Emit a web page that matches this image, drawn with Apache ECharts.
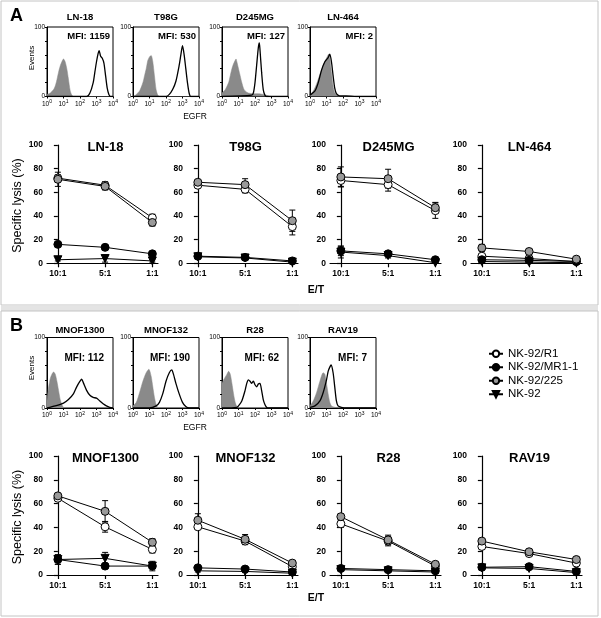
<!DOCTYPE html>
<html><head><meta charset="utf-8">
<script src="https://cdn.jsdelivr.net/npm/echarts@6/dist/echarts.min.js"></script>
<style>html,body{margin:0;padding:0;background:#fff}#c{width:601px;height:618px}</style>
</head><body><div id="c"></div>
<script>
// ---------- DATA ----------
const lineCats = ['10:1', '5:1', '1:1'];
const seriesNames = ['NK-92/R1', 'NK-92/MR1-1', 'NK-92/225', 'NK-92'];
const cellLines = ['LN-18', 'T98G', 'D245MG', 'LN-464', 'MNOF1300', 'MNOF132', 'R28', 'RAV19'];
const mfiValues = [1159, 530, 127, 2, 112, 190, 62, 7];
const histTickExp = ['0', '1', '2', '3', '4'];

// specific lysis (%) per cell line, at 10:1, 5:1, 1:1
const r1Lysis   = [[72,66,38.5],[66,62.5,31],[70,66.5,44.5],[6,4,1.5],[64.5,40.5,21.5],[40.5,28.5,7],[43,28.5,7.5],[24,18,10]];
const mr1Lysis  = [[16,13.5,8],[6,5,2],[10.5,8,3],[3,2.5,1.5],[13,7.5,7.5],[6,5,2.5],[5.5,4.5,3.5],[6.5,7,3]];
const c225Lysis = [[71,65,34.5],[68.5,66.5,36],[73,71.5,47],[13,10,3.5],[66.5,53.5,27.5],[46,30,10],[49,29.5,9],[28.5,19.5,13]];
const nk92Lysis = [[3,4,2],[5.5,4.5,1],[9.5,6.5,0.5],[1.5,1,0.5],[13,14,7.5],[3.5,3,1.5],[4.5,3.5,2.5],[6,5.5,2]];
// error (SD)
const r1Err   = [[3,3,3],[2,3,7],[5,5.5,6.5],[1,1,1],[2,4.5,3],[2,3,1],[3,4,1],[2,2,1.5]];
const mr1Err  = [[1,1,1],[1,1,1],[4,2,1],[1,1,1],[4,2,4],[2,1,1],[1,1,1],[2,1,1]];
const c225Err = [[6,3,3],[2,5,9],[8.5,8,4.5],[3,2,1],[2,9,3],[5.5,4,1.5],[2.5,4,1],[1.5,1.5,1.5]];
const nk92Err = [[1,3,1],[1,1,1],[5,2,1],[1,1,1],[4,5,2],[1,1,1],[1,1,1],[1,1,1]];

// flow histograms: [log10 EGFR, events]
const isoHist = [
  [[0,3],[0.2,5],[0.4,10],[0.5,15],[0.6,24],[0.7,35],[0.8,44],[0.9,50],[1.0,54],[1.1,50],[1.2,40],[1.3,25],[1.4,9],[1.5,2],[1.6,0],[4,0]],
  [[0,0],[0.1,1],[0.2,3],[0.4,8],[0.6,20],[0.7,30],[0.8,40],[0.9,52],[1.0,57],[1.1,59],[1.2,50],[1.3,30],[1.4,10],[1.5,2],[1.6,0],[4,0]],
  [[0,5],[0.2,10],[0.4,20],[0.5,30],[0.6,40],[0.7,47],[0.8,52],[0.85,54],[0.9,50],[1.0,40],[1.1,30],[1.2,20],[1.3,12],[1.4,8],[1.6,5],[1.9,4],[2.2,4],[2.5,3],[2.8,1],[3,0],[4,0]],
  [[0,2],[0.2,8],[0.4,18],[0.6,32],[0.8,45],[1.0,55],[1.14,61],[1.2,55],[1.3,35],[1.4,15],[1.5,5],[1.7,1],[1.9,0],[4,0]],
  [[0,10],[0.1,30],[0.2,42],[0.3,48],[0.4,51],[0.5,48],[0.6,38],[0.7,25],[0.8,12],[0.9,5],[1.0,1],[1.2,0],[4,0]],
  [[0,3],[0.2,8],[0.4,22],[0.6,38],[0.8,50],[0.96,55],[1.1,45],[1.2,30],[1.3,15],[1.4,5],[1.5,1],[1.7,0],[4,0]],
  [[0,35],[0.1,40],[0.2,44],[0.3,48],[0.4,52],[0.5,48],[0.6,35],[0.7,20],[0.8,8],[0.9,2],[1.0,0],[4,0]],
  [[0,3],[0.2,10],[0.4,22],[0.6,38],[0.8,50],[0.9,48],[1.0,35],[1.1,20],[1.2,8],[1.3,3],[1.5,1],[1.7,0],[4,0]]
];
const egfrHist = [
  [[0,0],[2.4,0],[2.6,5],[2.8,20],[2.9,35],[3.0,50],[3.1,62],[3.16,66],[3.25,58],[3.35,55],[3.45,48],[3.55,30],[3.65,12],[3.75,3],[3.85,0],[4,0]],
  [[0,0],[2.0,0],[2.2,3],[2.4,10],[2.6,22],[2.8,45],[2.9,60],[3.0,73],[3.1,60],[3.2,40],[3.3,20],[3.4,5],[3.5,0],[4,0]],
  [[0,0],[1.8,2],[1.9,5],[2.0,20],[2.1,45],[2.2,70],[2.26,77],[2.3,68],[2.4,35],[2.5,10],[2.6,2],[2.7,0],[4,0]],
  [[0,2],[0.3,8],[0.5,20],[0.7,38],[0.9,50],[1.1,56],[1.2,61],[1.3,50],[1.4,30],[1.5,12],[1.6,4],[1.8,1],[2.2,1],[2.8,0],[4,0]],
  [[0,0],[0.5,3],[1.0,7],[1.3,12],[1.6,20],[1.8,30],[2.0,38],[2.1,41],[2.2,36],[2.4,25],[2.6,18],[2.8,15],[3.0,14],[3.2,10],[3.4,6],[3.6,3],[3.8,1],[4,0]],
  [[0,0],[1.0,0],[1.4,3],[1.6,8],[1.8,20],[2.0,38],[2.2,50],[2.35,54],[2.45,48],[2.6,35],[2.8,20],[3.0,8],[3.2,2],[3.4,0],[4,0]],
  [[0,0],[0.9,1],[1.0,3],[1.2,10],[1.4,25],[1.5,35],[1.6,40],[1.7,38],[1.8,35],[1.9,38],[2.0,33],[2.1,30],[2.2,34],[2.3,35],[2.4,25],[2.5,12],[2.6,5],[2.7,1],[2.8,0],[4,0]],
  [[0,1],[0.3,3],[0.6,10],[0.8,22],[1.0,40],[1.1,52],[1.2,58],[1.28,61],[1.4,50],[1.5,30],[1.6,10],[1.7,3],[1.9,1],[2.2,0],[4,0]]
];

// ---------- LAYOUT ----------
const FONT = '"Liberation Sans", Arial, Helvetica, sans-serif';
const histLefts = [47, 133, 222, 310], histW = 66;
const histTop = [27, 337.5], histH = [69.5, 70.5];
const lineLefts = [47, 187, 330, 471], lineW = 111;
const lineTop = [145, 456], lineH = [118.3, 119];
const lysis = [r1Lysis, mr1Lysis, c225Lysis, nk92Lysis];
const errs = [r1Err, mr1Err, c225Err, nk92Err];
const styles = [
  {symbol: 'circle', color: '#ffffff', rot: 0, z: 4},
  {symbol: 'circle', color: '#000000', rot: 0, z: 5},
  {symbol: 'circle', color: '#999999', rot: 0, z: 6},
  {symbol: 'triangle', color: '#000000', rot: 180, z: 3}
];

const grid = [], xAxis = [], yAxis = [], series = [], graphic = [];
for (let i = 0; i < 8; i++) {
  const p = i < 4 ? 0 : 1, c = i % 4;
  grid.push({left: histLefts[c], top: histTop[p], width: histW, height: histH[p],
    show: true, borderColor: '#000', borderWidth: 1, backgroundColor: 'transparent'});
  xAxis.push({gridIndex: i, type: 'value', min: 0, max: 4, interval: 1,
    axisLine: {show: true, lineStyle: {color: '#000', width: 1}},
    axisTick: {show: true, length: 2, lineStyle: {color: '#000'}},
    axisLabel: {color: '#000', margin: 3, fontFamily: FONT,
      formatter: v => '{a|10}{b|' + histTickExp[v] + '}',
      rich: {a: {fontSize: 6.5, fontFamily: FONT, color: '#000', verticalAlign: 'bottom'},
             b: {fontSize: 5, fontFamily: FONT, color: '#000', verticalAlign: 'bottom', padding: [0, 0, 3, 0]}}},
    splitLine: {show: false}});
  yAxis.push({gridIndex: i, type: 'value', min: 0, max: 100, interval: 20,
    axisLine: {show: true, lineStyle: {color: '#000', width: 1}},
    axisTick: {show: true, length: 2, lineStyle: {color: '#000'}},
    axisLabel: {fontSize: 6.5, color: '#000', margin: 2, fontFamily: FONT,
      formatter: v => (v === 0 || v === 100) ? String(v) : ''},
    splitLine: {show: false}});
  series.push({type: 'line', xAxisIndex: i, yAxisIndex: i, data: isoHist[i], smooth: 0.25,
    symbol: 'none', silent: true, lineStyle: {color: '#8a8a8a', width: 0.5},
    areaStyle: {color: '#8a8a8a', opacity: 1}, z: 2, animation: false});
  series.push({type: 'line', xAxisIndex: i, yAxisIndex: i, data: egfrHist[i], smooth: 0.25,
    symbol: 'none', silent: true, lineStyle: {color: '#000', width: 1.3}, z: 3, animation: false});
  graphic.push({type: 'text', style: {text: cellLines[i], x: histLefts[c] + histW / 2, y: p ? 330 : 17,
    font: 'bold 9.5px ' + FONT, fill: '#000', textAlign: 'center', textVerticalAlign: 'middle'}});
  graphic.push({type: 'text', style: {text: 'MFI: ' + mfiValues[i],
    x: histLefts[c] + histW - (p ? 9 : 3), y: p ? 358 : 36,
    font: (p ? 'bold 10px ' : 'bold 9.5px ') + FONT, fill: '#000', textAlign: 'right', textVerticalAlign: 'middle'}});
}
const errRender = (params, api) => {
  const x = api.value(0), y = api.value(1), e = api.value(2);
  const t = api.coord([x, Math.min(100, y + e)]);
  const b = api.coord([x, Math.max(0, y - e)]);
  const st = {stroke: '#000', lineWidth: 1};
  return {type: 'group', children: [
    {type: 'line', shape: {x1: t[0], y1: t[1], x2: b[0], y2: b[1]}, style: st},
    {type: 'line', shape: {x1: t[0] - 3, y1: t[1], x2: t[0] + 3, y2: t[1]}, style: st},
    {type: 'line', shape: {x1: b[0] - 3, y1: b[1], x2: b[0] + 3, y2: b[1]}, style: st}
  ]};
};
for (let i = 0; i < 8; i++) {
  const p = i < 4 ? 0 : 1, c = i % 4, g = 8 + i;
  grid.push({left: lineLefts[c], top: lineTop[p], width: lineW, height: lineH[p]});
  xAxis.push({gridIndex: g, type: 'value', min: -0.23, max: 2.12,
    axisLine: {show: true, lineStyle: {color: '#000', width: 1.2}},
    axisTick: {show: true, length: 4, customValues: [0, 1, 2], lineStyle: {color: '#000', width: 1.2}},
    axisLabel: {customValues: [0, 1, 2], fontSize: 8.5, fontWeight: 'bold', color: '#000', margin: 6,
      fontFamily: FONT, formatter: v => lineCats[v]},
    splitLine: {show: false}});
  yAxis.push({gridIndex: g, type: 'value', min: 0, max: 100, interval: 20,
    axisLine: {show: true, lineStyle: {color: '#000', width: 1.2}},
    axisTick: {show: true, length: 4, lineStyle: {color: '#000', width: 1.2}},
    axisLabel: {fontSize: 8.5, fontWeight: 'bold', color: '#000', margin: 4, fontFamily: FONT},
    splitLine: {show: false}});
  const errData = [];
  for (let s = 0; s < 4; s++) {
    lysis[s][i].forEach((v, k) => errData.push([k, v, errs[s][i][k]]));
  }
  series.push({type: 'custom', xAxisIndex: g, yAxisIndex: g, data: errData, renderItem: errRender,
    silent: true, z: 1, animation: false});
  for (let s = 0; s < 4; s++) {
    const st = styles[s];
    series.push({type: 'line', name: seriesNames[s], xAxisIndex: g, yAxisIndex: g,
      data: lysis[s][i].map((v, k) => [k, v]), symbol: st.symbol, symbolSize: 8, symbolRotate: st.rot,
      itemStyle: {color: st.color, borderColor: '#000', borderWidth: 1},
      lineStyle: {color: '#000', width: 1}, z: st.z, silent: true, animation: false});
  }
  graphic.push({type: 'text', style: {text: cellLines[i], x: lineLefts[c] + 11 + 47.5, y: p ? 458.5 : 147,
    font: 'bold 13px ' + FONT, fill: '#000', textAlign: 'center', textVerticalAlign: 'middle'}});
}
// panel frames and shared labels
graphic.unshift(
  {type: 'rect', shape: {x: 1, y: 1, width: 597, height: 304}, style: {fill: 'none', stroke: '#c4c4c4', lineWidth: 1}, z: -10},
  {type: 'rect', shape: {x: 1, y: 305.5, width: 597, height: 5.5}, style: {fill: '#e4e4e4', stroke: 'none'}, z: -10},
  {type: 'rect', shape: {x: 1, y: 311, width: 597, height: 305}, style: {fill: 'none', stroke: '#c4c4c4', lineWidth: 1}, z: -10}
);
[0, 1].forEach(p => {
  graphic.push({type: 'text', style: {text: p ? 'B' : 'A', x: 16.5, y: p ? 326 : 16,
    font: 'bold 18px ' + FONT, fill: '#000', textAlign: 'center', textVerticalAlign: 'middle'}});
  graphic.push({type: 'text', rotation: Math.PI / 2, x: 32, y: p ? 368 : 58,
    style: {text: 'Events', x: 0, y: 0, font: '8px ' + FONT, fill: '#000', textAlign: 'center', textVerticalAlign: 'middle'}});
  graphic.push({type: 'text', style: {text: 'EGFR', x: 195, y: p ? 427.5 : 117,
    font: '8.5px ' + FONT, fill: '#000', textAlign: 'center', textVerticalAlign: 'middle'}});
  graphic.push({type: 'text', rotation: Math.PI / 2, x: 18, y: p ? 517 : 205.5,
    style: {text: 'Specific lysis (%)', x: 0, y: 0, font: '12.5px ' + FONT, fill: '#000', textAlign: 'center', textVerticalAlign: 'middle'}});
  graphic.push({type: 'text', style: {text: 'E/T', x: 316, y: p ? 598.5 : 290,
    font: 'bold 10.5px ' + FONT, fill: '#000', textAlign: 'center', textVerticalAlign: 'middle'}});
});

const chart = echarts.init(document.getElementById('c'), null, {renderer: 'canvas'});
chart.setOption({
  animation: false,
  backgroundColor: '#ffffff',
  textStyle: {fontFamily: FONT},
  grid, xAxis, yAxis, series, graphic,
  legend: {data: seriesNames, orient: 'vertical', left: 483, top: 342, itemWidth: 14, itemHeight: 8,
    itemGap: 0, selectedMode: false,
    textStyle: {fontSize: 11.5, color: '#000', lineHeight: 13.5, fontFamily: FONT}}
});
</script></body></html>
